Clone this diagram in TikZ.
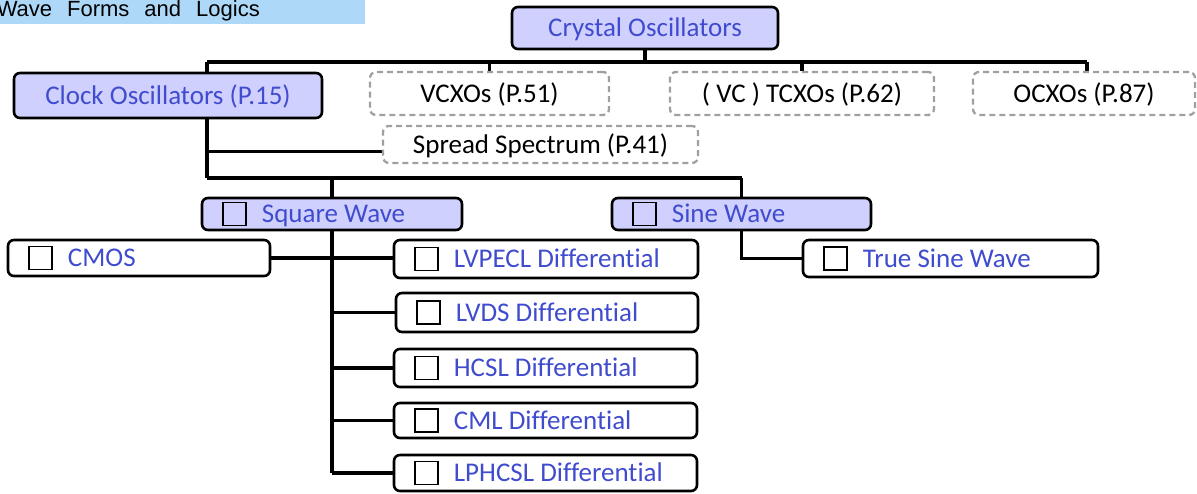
\documentclass[tikz,border=0pt]{standalone}
\usepackage{fontspec}
\setmainfont[Ligatures={NoCommon}]{Carlito}
\newfontfamily\arialf{Liberation Sans}
\usetikzlibrary{backgrounds}
\definecolor{boxfill}{RGB}{208,208,255}
\definecolor{txtblue}{RGB}{64,76,206}
\definecolor{band}{RGB}{173,216,247}
\definecolor{dgray}{RGB}{160,160,160}
\newcommand\bx[7]{\node[#6, minimum width={#4-#2}, minimum height={#5-#3}] (#1) at ({(#2+#4)/2},{(#3+#5)/2}) {#7};}
\begin{document}
\begin{tikzpicture}[x=1pt,y=-1pt,
  base/.style={rounded corners=6pt, inner sep=0pt, font=\fontsize{27}{30}\selectfont, text height=17.4pt, text depth=0pt},
  solidbox/.style={base, draw=black, line width=2.6pt, fill=white},
  mainbox/.style={solidbox, fill=boxfill, text=txtblue},
  dashbox/.style={base, draw=dgray, line width=2.3pt, dash pattern=on 6pt off 4pt, fill=white},
  chk/.style={draw=black, line width=1.8pt, minimum size=23pt, inner sep=0pt},
  lbl/.style={anchor=west, inner sep=0pt, font=\fontsize{27}{30}\selectfont, text height=17.4pt, text depth=0pt, text=txtblue},
  conn/.style={line width=3.3pt}]
\useasboundingbox (0,0) rectangle (1197,493);
\clip (0,0) rectangle (1197,493);
% title band
\fill[band] (0,0) rectangle (365,24);
\node[anchor=base east, inner sep=0pt, font=\arialf\fontsize{22}{24}\selectfont] (title) at (260,16) {\spaceskip=15pt plus 0pt Wave Forms and Logics};
% boxes
\bx{crystal}{512}{7}{778}{49}{mainbox}{Crystal Oscillators}
\bx{clock}{14}{73}{322}{118}{mainbox}{Clock Oscillators (P.15)}
\bx{vcxo}{370}{72}{609}{115}{dashbox}{VCXOs (P.51)}
\bx{tcxo}{670}{72}{934}{115}{dashbox}{( VC ) TCXOs (P.62)}
\bx{ocxo}{973}{72}{1195}{115}{dashbox}{OCXOs (P.87)}
\bx{spread}{383}{126}{698}{163}{dashbox}{Spread Spectrum (P.41)}
\bx{sq}{202}{198}{462}{230}{mainbox}{}
\bx{sine}{612}{198}{871}{230}{mainbox}{}
\bx{cmos}{8}{240}{270}{276}{solidbox}{}
\bx{lvpecl}{394}{240}{698}{278}{solidbox}{}
\bx{lvds}{396}{293}{698}{332}{solidbox}{}
\bx{hcsl}{394}{349}{697}{387}{solidbox}{}
\bx{cml}{394}{403}{697}{438}{solidbox}{}
\bx{lphcsl}{394}{455}{697}{491}{solidbox}{}
\bx{tsine}{803}{240}{1098}{277}{solidbox}{}
% check boxes and labels
\foreach \n/\t in {sq/Square Wave, sine/Sine Wave, cmos/CMOS, lvpecl/LVPECL Differential, lvds/LVDS Differential, hcsl/HCSL Differential, cml/CML Differential, lphcsl/LPHCSL Differential, tsine/True Sine Wave}{
  \node[chk] (\n-c) at ([xshift=34pt]\n.west) {};
  \node[lbl] (\n-t) at ([xshift=61pt]\n.west) {\t};
}
% connectors
\coordinate (tl) at (207,62);
\coordinate (tr) at (1087,62);
\coordinate (cb) at (207,178);
\begin{scope}[on background layer]
\draw[conn] (crystal.south) -- (crystal.south |- tl);
\draw[conn] (tl) -- (tr);
\draw[conn] (vcxo.north) -- (vcxo.north |- tl);
\draw[conn] (tcxo.north) -- (tcxo.north |- tl);
\draw[conn] (tr) -- (tr |- ocxo.north);
\draw[conn] (tl) -- (cb);
\draw[conn] ([yshift=-7pt]spread.west) -- ([yshift=-7pt]spread.west -| tl);
\draw[conn] (cb) -- (cb -| sine.north);
\draw[conn] (sq.north) -- (sq.north |- cb);
\draw[conn] (sine.north) -- (sine.north |- cb);
\draw[conn] (sq.south) -- (sq.south |- lphcsl.west);
\draw[conn] (cmos.east) -- (cmos.east -| lvpecl.west);
\draw[conn] (sq.south |- lvds.west) -- (lvds.west);
\draw[conn] (sq.south |- hcsl.west) -- (hcsl.west);
\draw[conn] (sq.south |- cml.west) -- (cml.west);
\draw[conn] (sq.south |- lphcsl.west) -- (lphcsl.west);
\draw[conn] (sine.south) |- (tsine.west);
\end{scope}
\end{tikzpicture}
\end{document}
